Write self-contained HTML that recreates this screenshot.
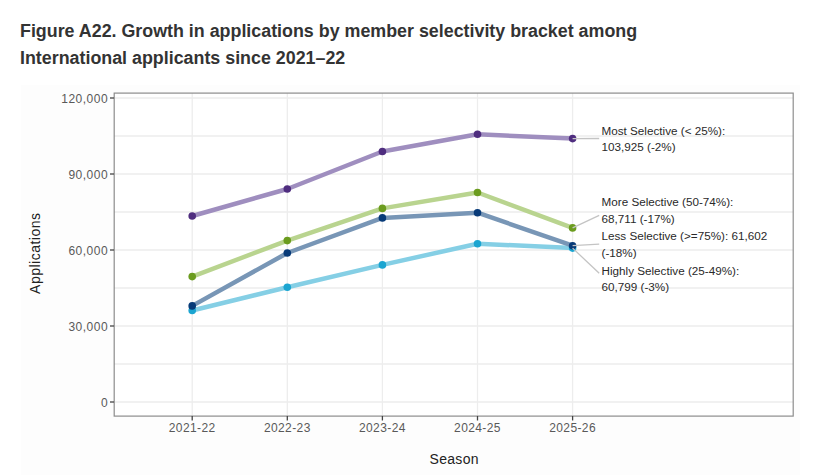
<!DOCTYPE html>
<html><head><meta charset="utf-8">
<style>
html,body{margin:0;padding:0;background:#fff;}
body{width:828px;height:475px;overflow:hidden;position:relative;}
svg{position:absolute;left:0;top:0;}
text{font-family:"Liberation Sans",sans-serif;}
</style></head>
<body>
<svg width="828" height="475" viewBox="0 0 828 475">
<rect x="21" y="85" width="779" height="390" fill="#fdfdfd"/>
<text x="20" y="36.7" font-size="17.85" font-weight="bold" fill="#333">Figure A22. Growth in applications by member selectivity bracket among</text>
<text x="20" y="63.6" font-size="17.85" font-weight="bold" fill="#333">International applicants since 2021–22</text>
<rect x="114" y="93" width="679" height="323" fill="#ffffff"/>
<g stroke="#ededed" stroke-width="1.3" fill="none">
<line x1="114" y1="98" x2="793" y2="98"/>
<line x1="114" y1="136" x2="793" y2="136"/>
<line x1="114" y1="174" x2="793" y2="174"/>
<line x1="114" y1="212" x2="793" y2="212"/>
<line x1="114" y1="250" x2="793" y2="250"/>
<line x1="114" y1="288" x2="793" y2="288"/>
<line x1="114" y1="326" x2="793" y2="326"/>
<line x1="114" y1="364" x2="793" y2="364"/>
<line x1="114" y1="402" x2="793" y2="402"/>
<line x1="192.2" y1="93" x2="192.2" y2="416"/>
<line x1="287.3" y1="93" x2="287.3" y2="416"/>
<line x1="382.4" y1="93" x2="382.4" y2="416"/>
<line x1="477.5" y1="93" x2="477.5" y2="416"/>
<line x1="572.6" y1="93" x2="572.6" y2="416"/>
</g>
<rect x="114.2" y="93.1" width="679" height="323" fill="none" stroke="#8c8c8c" stroke-width="1.2"/>
<g stroke="#444" stroke-width="1.3">
<line x1="110" y1="98" x2="114" y2="98"/>
<line x1="110" y1="174" x2="114" y2="174"/>
<line x1="110" y1="250" x2="114" y2="250"/>
<line x1="110" y1="326" x2="114" y2="326"/>
<line x1="110" y1="402" x2="114" y2="402"/>
<line x1="192.2" y1="416" x2="192.2" y2="420.5"/>
<line x1="287.3" y1="416" x2="287.3" y2="420.5"/>
<line x1="382.4" y1="416" x2="382.4" y2="420.5"/>
<line x1="477.5" y1="416" x2="477.5" y2="420.5"/>
<line x1="572.6" y1="416" x2="572.6" y2="420.5"/>
</g>
<g font-size="12" fill="#595959" text-anchor="end" letter-spacing="0.5">
<text x="108.1" y="102.6">120,000</text>
<text x="108.1" y="178.6">90,000</text>
<text x="108.1" y="254.6">60,000</text>
<text x="108.1" y="330.6">30,000</text>
<text x="108.1" y="406.6">0</text>
</g>
<g font-size="12" fill="#595959" text-anchor="middle" letter-spacing="0.4">
<text x="192.2" y="432">2021-22</text>
<text x="287.3" y="432">2022-23</text>
<text x="382.4" y="432">2023-24</text>
<text x="477.5" y="432">2024-25</text>
<text x="572.6" y="432">2025-26</text>
</g>
<text x="454.2" y="464" font-size="14" fill="#222" text-anchor="middle" letter-spacing="0.3">Season</text>
<text transform="translate(39.7,253.2) rotate(-90)" font-size="14" fill="#222" text-anchor="middle" letter-spacing="0.5">Applications</text>
<g fill="none" stroke-width="4.5" stroke-linejoin="round">
<polyline stroke="#85cfe5" points="192.2,310.5 287.3,287.3 382.4,264.9 477.5,243.7 572.6,248.1"/>
<polyline stroke="#7896b6" points="192.2,305.9 287.3,253.0 382.4,217.9 477.5,212.7 572.6,245.7"/>
<polyline stroke="#b9d48f" points="192.2,276.6 287.3,240.6 382.4,208.4 477.5,192.5 572.6,227.9"/>
<polyline stroke="#9f8ebf" points="192.2,216 287.3,189.0 382.4,151.5 477.5,134.3 572.6,138.6"/>
</g>
<g fill="#1ba5d1"><circle cx="192.2" cy="310.5" r="3.8"/><circle cx="287.3" cy="287.3" r="3.8"/><circle cx="382.4" cy="264.9" r="3.8"/><circle cx="477.5" cy="243.7" r="3.8"/><circle cx="572.6" cy="248.1" r="3.8"/></g>
<g fill="#073a78"><circle cx="192.2" cy="305.9" r="3.8"/><circle cx="287.3" cy="253.0" r="3.8"/><circle cx="382.4" cy="217.9" r="3.8"/><circle cx="477.5" cy="212.7" r="3.8"/><circle cx="572.6" cy="245.7" r="3.8"/></g>
<g fill="#6b9c1e"><circle cx="192.2" cy="276.6" r="3.8"/><circle cx="287.3" cy="240.6" r="3.8"/><circle cx="382.4" cy="208.4" r="3.8"/><circle cx="477.5" cy="192.5" r="3.8"/><circle cx="572.6" cy="227.9" r="3.8"/></g>
<g fill="#4f2d7f"><circle cx="192.2" cy="216" r="3.8"/><circle cx="287.3" cy="189.0" r="3.8"/><circle cx="382.4" cy="151.5" r="3.8"/><circle cx="477.5" cy="134.3" r="3.8"/><circle cx="572.6" cy="138.6" r="3.8"/></g>

<g stroke="#c4c4c4" stroke-width="1.3">
<line x1="572.6" y1="138.6" x2="599.2" y2="138.5"/>
<line x1="572.6" y1="227.9" x2="599.2" y2="215.4"/>
<line x1="572.6" y1="245.7" x2="599.2" y2="244.1"/>
<line x1="572.6" y1="248.1" x2="599.2" y2="273.3"/>
</g>
<g font-size="11.7" fill="#2a2a2a">
<text x="601.5" y="134.5">Most Selective (&lt; 25%):</text>
<text x="601.5" y="151">103,925 (-2%)</text>
<text x="601.5" y="206.2">More Selective (50-74%):</text>
<text x="601.5" y="222.7">68,711 (-17%)</text>
<text x="601.5" y="240.4">Less Selective (&gt;=75%): 61,602</text>
<text x="601.5" y="256.9">(-18%)</text>
<text x="601.5" y="274.8">Highly Selective (25-49%):</text>
<text x="601.5" y="291.3">60,799 (-3%)</text>
</g>
</svg>
</body></html>
